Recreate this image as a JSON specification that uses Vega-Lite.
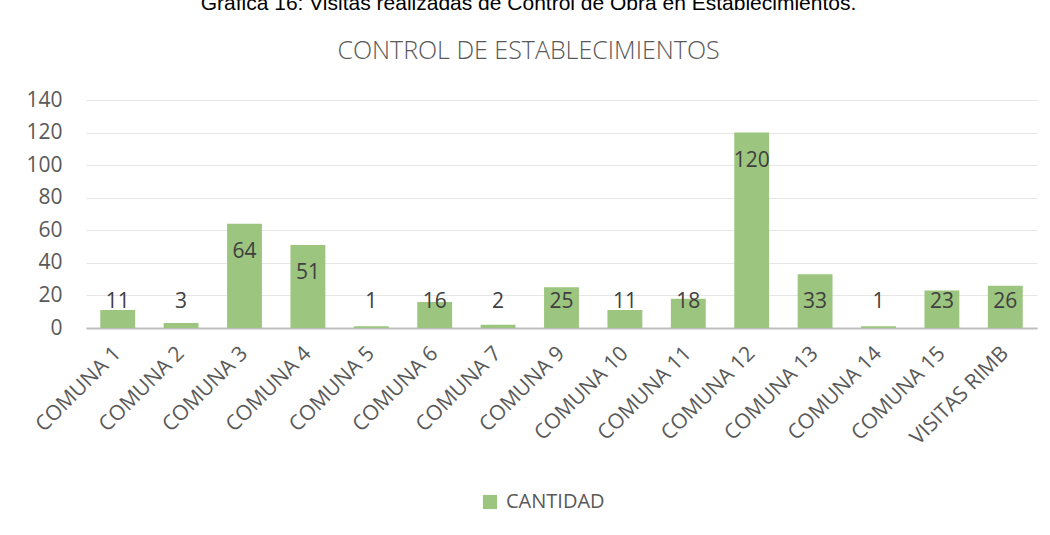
{
  "$schema": "https://vega.github.io/schema/vega-lite/v6.json",
  "autosize": "none",
  "width": 951,
  "height": 228,
  "padding": {"left": 86, "top": 100, "right": 13, "bottom": 207},
  "background": "white",
  "title": {
    "text": "Grafica 16: Visitas realizadas de Control de Obra en Establecimientos.",
    "subtitle": "CONTROL DE ESTABLECIMIENTOS",
    "anchor": "middle",
    "dx": -33,
    "offset": 25,
    "font": "Liberation Sans",
    "fontSize": 21,
    "fontWeight": "normal",
    "color": "#000000",
    "subtitleFont": "Open Sans",
    "subtitleFontSize": 25,
    "subtitleFontWeight": 300,
    "subtitleColor": "#595959",
    "subtitlePadding": 25
  },
  "data": {
    "values": [
      {"comuna": "COMUNA 1", "cantidad": 11},
      {"comuna": "COMUNA 2", "cantidad": 3},
      {"comuna": "COMUNA 3", "cantidad": 64},
      {"comuna": "COMUNA 4", "cantidad": 51},
      {"comuna": "COMUNA 5", "cantidad": 1},
      {"comuna": "COMUNA 6", "cantidad": 16},
      {"comuna": "COMUNA 7", "cantidad": 2},
      {"comuna": "COMUNA 9", "cantidad": 25},
      {"comuna": "COMUNA 10", "cantidad": 11},
      {"comuna": "COMUNA 11", "cantidad": 18},
      {"comuna": "COMUNA 12", "cantidad": 120},
      {"comuna": "COMUNA 13", "cantidad": 33},
      {"comuna": "COMUNA 14", "cantidad": 1},
      {"comuna": "COMUNA 15", "cantidad": 23},
      {"comuna": "VISITAS RIMB", "cantidad": 26}
    ]
  },
  "encoding": {
    "x": {
      "field": "comuna",
      "type": "nominal",
      "sort": null,
      "scale": {"paddingInner": 0.45, "paddingOuter": 0.225},
      "axis": {
        "title": null,
        "labelAngle": -45,
        "labelAlign": "right",
        "labelBaseline": "middle",
        "labelFont": "Open Sans",
        "labelFontSize": 21,
        "labelColor": "#595959",
        "labelPadding": 22,
        "ticks": false,
        "domainColor": "#BFBFBF",
        "domainWidth": 2,
        "grid": false
      }
    },
    "y": {
      "field": "cantidad",
      "type": "quantitative",
      "scale": {"domain": [0, 140], "nice": false},
      "axis": {
        "title": null,
        "values": [0, 20, 40, 60, 80, 100, 120, 140],
        "labelFont": "Open Sans",
        "labelFontSize": 21,
        "labelColor": "#595959",
        "labelPadding": 24,
        "ticks": false,
        "domain": false,
        "gridColor": "#E6E6E6",
        "gridWidth": 1
      }
    }
  },
  "layer": [
    {
      "mark": {"type": "bar", "color": "#9CC57F"},
      "encoding": {
        "color": {
          "datum": "CANTIDAD",
          "scale": {"range": ["#9CC57F"]},
          "legend": {
            "title": null,
            "orient": "none",
            "legendX": 394,
            "legendY": 392,
            "direction": "horizontal",
            "symbolType": "square",
            "symbolSize": 200,
            "symbolStrokeWidth": 0,
            "labelFont": "Open Sans",
            "labelFontSize": 20,
            "labelColor": "#595959",
            "labelOffset": 6
          }
        }
      }
    },
    {
      "mark": {
        "type": "text",
        "font": "Open Sans",
        "fontSize": 21,
        "color": "#404040",
        "baseline": "middle",
        "align": "center",
        "dy": {"expr": "min(28, datum.cantidad * 228 / 140 - 26)"}
      },
      "encoding": {
        "text": {"field": "cantidad", "type": "quantitative"}
      }
    }
  ],
  "config": {"view": {"stroke": null}}
}
